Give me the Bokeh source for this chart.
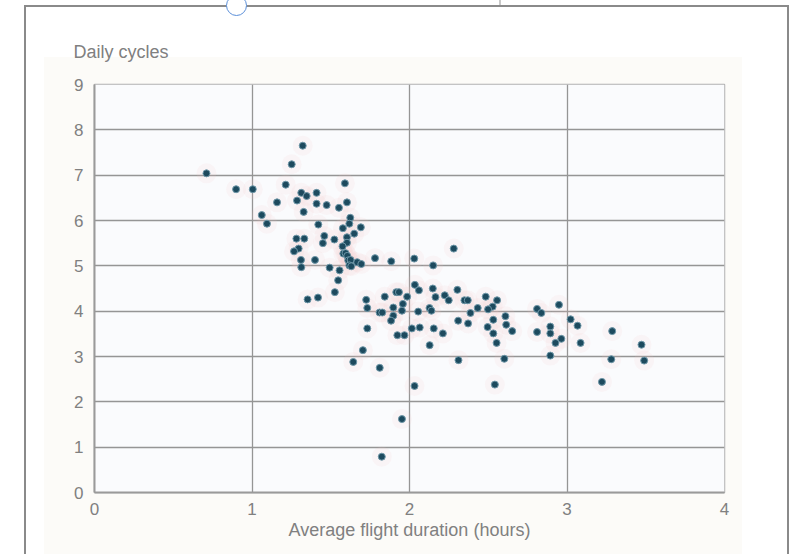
from bokeh.plotting import figure
from bokeh.models import Range1d, FixedTicker, BoxAnnotation, InlineStyleSheet
from bokeh.embed import file_html
from bokeh.resources import INLINE

# Average flight duration (hours)
duration = [0.711, 0.899, 1.005, 1.322, 1.252, 1.214, 1.590, 1.313, 1.410, 1.347,
            1.286, 1.159, 1.410, 1.474, 1.552, 1.603, 1.328, 1.062, 1.095, 1.624,
            1.421, 1.577, 1.618, 1.691, 1.649, 1.459, 1.282, 1.332, 1.523, 1.603,
            1.450, 1.603, 1.296, 1.267, 1.575, 1.580, 1.594, 1.605, 1.611, 1.626,
            1.618, 1.630, 1.668, 1.694, 1.781, 1.884, 1.311, 1.400, 1.313, 1.493,
            1.556, 1.547, 1.526, 1.353, 1.419, 1.725, 1.843, 1.916, 1.933, 1.985,
            1.732, 1.810, 1.827, 1.897, 1.952, 1.958, 1.897, 1.883, 1.732, 1.923,
            1.968, 1.704, 1.643, 1.811, 2.034, 2.060, 2.148, 2.165, 2.224, 2.249,
            2.055, 2.127, 2.139, 2.015, 2.065, 2.154, 2.212, 2.128, 2.032, 1.952,
            1.824, 2.281, 2.030, 2.150, 2.304, 2.349, 2.370, 2.484, 2.556, 2.528,
            2.499, 2.433, 2.387, 2.309, 2.372, 2.532, 2.609, 2.614, 2.652, 2.496,
            2.532, 2.553, 2.311, 2.602, 2.949, 2.810, 2.837, 3.023, 3.067, 3.287,
            2.810, 2.894, 2.894, 2.927, 2.964, 3.086, 3.473, 2.894, 3.281, 3.490,
            3.222, 2.542]
# Daily cycles
cycles = [7.04, 6.69, 6.69, 7.65, 7.24, 6.79, 6.82, 6.61, 6.61, 6.54,
          6.44, 6.40, 6.37, 6.34, 6.28, 6.40, 6.19, 6.12, 5.93, 6.06,
          5.91, 5.83, 5.93, 5.85, 5.71, 5.66, 5.60, 5.60, 5.58, 5.63,
          5.50, 5.51, 5.38, 5.32, 5.43, 5.27, 5.28, 5.22, 5.12, 5.13,
          5.01, 4.99, 5.08, 5.04, 5.17, 5.10, 5.13, 5.13, 4.97, 4.96,
          4.90, 4.68, 4.42, 4.26, 4.30, 4.25, 4.32, 4.42, 4.42, 4.32,
          4.07, 3.97, 3.97, 4.08, 4.01, 4.16, 3.90, 3.79, 3.62, 3.47,
          3.47, 3.14, 2.88, 2.75, 4.58, 4.46, 4.50, 4.31, 4.35, 4.24,
          3.99, 4.07, 4.01, 3.62, 3.64, 3.62, 3.51, 3.25, 2.35, 1.62,
          0.79, 5.38, 5.16, 5.01, 4.47, 4.24, 4.24, 4.32, 4.24, 4.10,
          4.04, 4.07, 3.96, 3.79, 3.73, 3.81, 3.89, 3.70, 3.56, 3.65,
          3.51, 3.30, 2.92, 2.95, 4.14, 4.05, 3.96, 3.82, 3.68, 3.56,
          3.54, 3.66, 3.51, 3.30, 3.39, 3.30, 3.26, 3.02, 2.94, 2.91,
          2.44, 2.38]

x_ticks = [0, 1, 2, 3, 4]
y_ticks = [0, 1, 2, 3, 4, 5, 6, 7, 8, 9]
x_title = "Average flight duration (hours)"
y_title = "Daily cycles"

FONT = "Liberation Sans"
TXT = "#808080"

p = figure(width=795, height=554, output_backend="svg", toolbar_location=None,
           x_range=Range1d(0, 4), y_range=Range1d(0, 9),
           min_border_left=94, min_border_right=71, min_border_top=84, min_border_bottom=62)

# page decoration (cream panel, outer frame, handle) drawn behind/around the canvas
css = """
:host {
  background:
    linear-gradient(#c9c9c9, #c9c9c9) 499px 0px / 2px 6px no-repeat,
    linear-gradient(#fcfbf8, #fcfbf8) 44px 57px / 698px 497px no-repeat,
    #ffffff;
}
:host::after {
  content: ""; position: absolute; left: 24px; top: 5px; width: 765px; height: 549px;
  box-sizing: border-box; border: 2px solid #8a8a8a; border-bottom: none;
  pointer-events: none; z-index: 5;
}
:host::before {
  content: ""; position: absolute; left: 226px; top: -5px; width: 21px; height: 21px;
  box-sizing: border-box; border: 1.5px solid #5b8fd9; border-radius: 50%;
  background: #ffffff; pointer-events: none; z-index: 6;
}
"""
p.stylesheets = [InlineStyleSheet(css=css)]

p.background_fill_color = None
p.border_fill_color = None
p.outline_line_color = "#b0b0b0"
p.outline_line_width = 1.5

p.add_layout(BoxAnnotation(left=0, right=4, top=9, bottom=0,
                           fill_color="#fafbfd", fill_alpha=1, line_color=None, level="image"))

p.title.text = y_title
p.title.align = "left"
p.title.offset = -21
p.title.standoff = 46
p.title.text_font = FONT
p.title.text_font_size = "18px"
p.title.text_font_style = "normal"
p.title.text_color = TXT

p.xaxis.ticker = FixedTicker(ticks=x_ticks)
p.yaxis.ticker = FixedTicker(ticks=y_ticks)
p.xgrid.ticker = FixedTicker(ticks=x_ticks)
p.ygrid.ticker = FixedTicker(ticks=y_ticks)
p.grid.grid_line_color = "#959595"
p.grid.grid_line_width = 1.3

for ax in (p.xaxis, p.yaxis):
    ax.major_tick_line_color = None
    ax.minor_tick_line_color = None
    ax.axis_line_color = "#9a9a9a"
    ax.axis_line_width = 2
    ax.major_label_text_font = FONT
    ax.major_label_text_font_size = "17px"
    ax.major_label_text_color = TXT

p.xaxis.major_label_standoff = 4
p.yaxis.major_label_standoff = 5
p.xaxis.axis_label = x_title
p.xaxis.axis_label_text_font = FONT
p.xaxis.axis_label_text_font_size = "18px"
p.xaxis.axis_label_text_font_style = "normal"
p.xaxis.axis_label_text_color = TXT
p.xaxis.axis_label_standoff = 2

p.scatter(duration, cycles, size=20, fill_color="#f3c4c4", fill_alpha=0.12, line_color=None)
p.scatter(duration, cycles, size=7, fill_color="#1d4a5e", line_color="#6f97a8", line_width=1)

open("out.html", "w").write(file_html(p, INLINE))
